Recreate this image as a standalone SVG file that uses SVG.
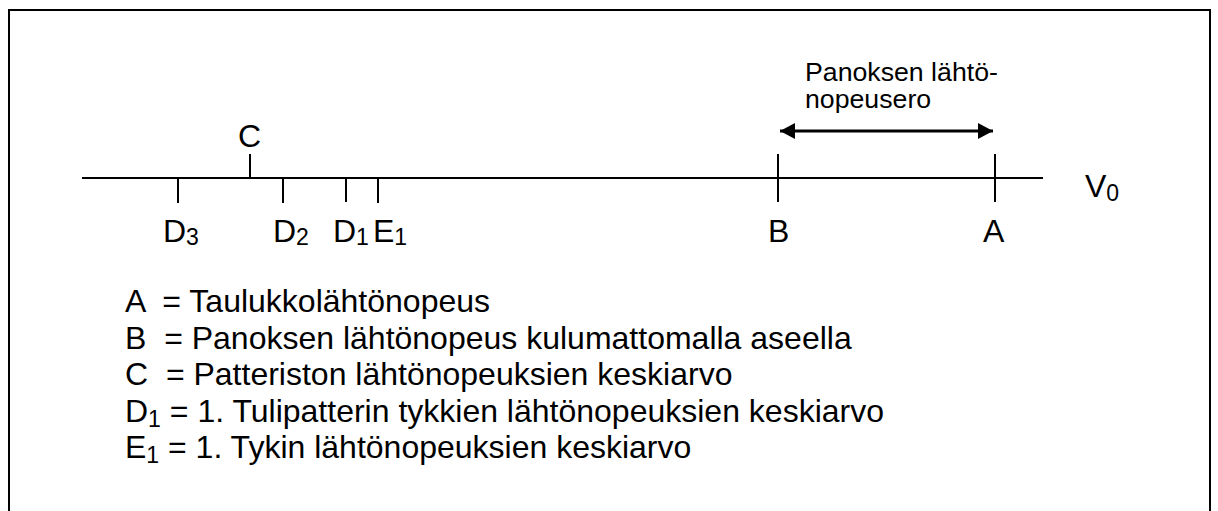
<svg xmlns="http://www.w3.org/2000/svg" width="1218" height="511" viewBox="0 0 1218 511">
<style>
text{font-family:"Liberation Sans",Arial,sans-serif;fill:#000}
.lbl{font-size:32px}
.sub{font-size:23px}
.leg{font-size:32px}
.cap{font-size:26.7px}
.ln{stroke:#000;stroke-width:2;fill:none}
</style>
<defs>
<marker id="ah" markerWidth="16" markerHeight="16" refX="15" refY="8" orient="auto-start-reverse" markerUnits="userSpaceOnUse">
<path d="M0,0 L15,8 L0,16 Z" fill="#000"/>
</marker>
</defs>
<rect width="1218" height="511" fill="#fff"/>
<path class="ln" d="M9,520 L9,10 L1210,10 L1210,520"/>
<g id="axis">
<line class="ln" x1="82" y1="178" x2="1043" y2="178"/>
<text class="lbl" x="1085" y="197">V<tspan class="sub" dy="4">0</tspan></text>
</g>
<g id="node-C">
<line class="ln" x1="250" y1="154" x2="250" y2="178"/>
<text class="lbl" x="238" y="147">C</text>
</g>
<g id="node-D3">
<line class="ln" x1="178" y1="178" x2="178" y2="203"/>
<text class="lbl" x="163" y="242">D<tspan class="sub" dy="3">3</tspan></text>
</g>
<g id="node-D2">
<line class="ln" x1="283" y1="178" x2="283" y2="203"/>
<text class="lbl" x="273" y="242">D<tspan class="sub" dy="3">2</tspan></text>
</g>
<g id="node-D1">
<line class="ln" x1="346" y1="178" x2="346" y2="202"/>
<text class="lbl" x="333" y="242">D<tspan class="sub" dy="3">1</tspan></text>
</g>
<g id="node-E1">
<line class="ln" x1="378" y1="178" x2="378" y2="203"/>
<text class="lbl" x="373" y="242">E<tspan class="sub" dy="3">1</tspan></text>
</g>
<g id="node-B">
<line class="ln" x1="778" y1="154" x2="778" y2="202"/>
<text class="lbl" x="768" y="242">B</text>
</g>
<g id="node-A">
<line class="ln" x1="995" y1="154" x2="995" y2="202"/>
<text class="lbl" x="983" y="242">A</text>
</g>
<g id="connectors">
<line x1="780" y1="131" x2="993" y2="131" stroke="#000" stroke-width="3" marker-start="url(#ah)" marker-end="url(#ah)"/>
</g>
<g id="caption">
<text class="cap" x="805" y="81">Panoksen lähtö-</text>
<text class="cap" x="805" y="108">nopeusero</text>
</g>
<g id="legend">
<text class="leg" x="125" y="312" xml:space="preserve">A  = Taulukkolähtönopeus</text>
<text class="leg" x="125" y="348.5" xml:space="preserve">B  = Panoksen lähtönopeus kulumattomalla aseella</text>
<text class="leg" x="125" y="385" xml:space="preserve">C  = Patteriston lähtönopeuksien keskiarvo</text>
<text class="leg" x="125" y="421.5" xml:space="preserve">D<tspan class="sub" dy="5">1</tspan><tspan dy="-5"> = 1. Tulipatterin tykkien lähtönopeuksien keskiarvo</tspan></text>
<text class="leg" x="125" y="458" xml:space="preserve">E<tspan class="sub" dy="5">1</tspan><tspan dy="-5"> = 1. Tykin lähtönopeuksien keskiarvo</tspan></text>
</g>
</svg>
